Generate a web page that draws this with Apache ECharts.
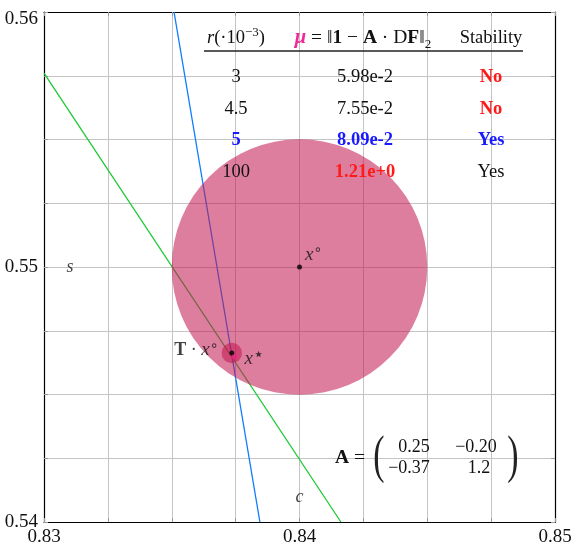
<!DOCTYPE html>
<html><head><meta charset="utf-8">
<script src="https://cdn.jsdelivr.net/npm/echarts@6/dist/echarts.min.js"></script>
<style>html,body{margin:0;padding:0;background:#fff}#c{width:572px;height:542px}</style>
</head><body><div id="c"></div>
<script>
// ---- data ----
const xRange = [0.83, 0.85];
const yRange = [0.54, 0.56];
const gridStep = 0.0025;
const blueLine = [[0.83509, 0.56], [0.83845, 0.54]];
const greenLine = [[0.83, 0.5576], [0.84162, 0.54]];
const bigCircle = [0.84, 0.55, 0.005];      // cx, cy, r
const smallCircle = [0.83735, 0.54663, 0.0004];
const xCenter = [0.84, 0.55];
const txPoint = [0.83735, 0.54663];
const xStarPoint = [0.83744, 0.54647];
const sLabelPos = [0.83102, 0.55];
const cLabelPos = [0.84, 0.54098];
const tableR = ['3', '4.5', '5', '100'];
const tableMu = ['5.98e-2', '7.55e-2', '8.09e-2', '1.21e+0'];
const tableStab = ['No', 'No', 'Yes', 'Yes'];
const matrixA = [['0.25', '\u22120.20'], ['\u22120.37', '1.2']];

const FONT = 'Liberation Serif';
const RED = '#ff1a1a', BLUE = '#1a1aff', MAG = '#ee2a96';
const fillC = 'rgba(194,20,78,0.55)';
const FS = 18.5;

const chart = echarts.init(document.getElementById('c'), null, {renderer: 'canvas'});

function lbl(v) {
  return Math.abs(v * 100 - Math.round(v * 100)) < 1e-6 ? v.toFixed(2) : '';
}
function lblY(v) {
  const s = lbl(v);
  if (!s) return '';
  return Math.abs(v - yRange[1]) < 1e-9 ? '{top|' + s + '}' : s;
}
const axisCommon = {
  type: 'value', interval: gridStep,
  axisLine: {show: true, onZero: false, lineStyle: {color: '#000', width: 1.2}},
  axisTick: {show: true, inside: true, length: 4, lineStyle: {color: '#999'}},
  splitLine: {show: true, lineStyle: {color: '#c4c4c4', width: 1}},
};

function T(x, y, text, style, extra) {
  return Object.assign({
    type: 'text', x: x, y: y, z: 100,
    style: Object.assign({
      text: text, fontFamily: FONT, fontSize: FS, fill: '#111',
      align: 'center', verticalAlign: 'middle'
    }, style || {})
  }, extra || {});
}

const rowsY = [77, 109, 140, 172];
const colX = [236, 365, 491];
const graphics = [];
// header
graphics.push(T(colX[0], 38, '{i|r}{n|(·10}{sup|\u22123}{n|)}', {rich: {
  i: {fontFamily: FONT, fontStyle: 'italic', fontSize: FS, fill: '#111', lineHeight: 24},
  n: {fontFamily: FONT, fontSize: FS, fill: '#111', lineHeight: 24},
  sup: {fontFamily: FONT, fontSize: 13, fill: '#111', verticalAlign: 'top', lineHeight: 24}
}}));
graphics.push(T(363, 38, '{mu|μ}{n| = ‖}{b|1}{n| − }{b|A}{n| · D}{b|F}{n|‖}{sub|2}', {rich: {
  mu: {fontFamily: FONT, fontStyle: 'italic', fontWeight: 'bold', fontSize: FS + 2, fill: MAG, lineHeight: 26},
  n: {fontFamily: FONT, fontSize: FS + 1, fill: '#111', lineHeight: 26},
  b: {fontFamily: FONT, fontWeight: 'bold', fontSize: FS + 1, fill: '#111', lineHeight: 26},
  sub: {fontFamily: FONT, fontSize: 13, fill: '#111', verticalAlign: 'bottom', lineHeight: 26}
}}));
graphics.push(T(colX[2], 38, 'Stability'));
graphics.push({type: 'line', z: 100, shape: {x1: 204, y1: 51, x2: 523, y2: 51}, style: {stroke: '#222', lineWidth: 1.4}});
const rowStyles = [
  [{}, {}, {fill: RED, fontWeight: 'bold'}],
  [{}, {}, {fill: RED, fontWeight: 'bold'}],
  [{fill: BLUE, fontWeight: 'bold'}, {fill: BLUE, fontWeight: 'bold'}, {fill: BLUE, fontWeight: 'bold'}],
  [{}, {fill: RED, fontWeight: 'bold'}, {}]
];
for (let i = 0; i < tableR.length; i++) {
  graphics.push(T(colX[0], rowsY[i], tableR[i], rowStyles[i][0]));
  graphics.push(T(colX[1], rowsY[i], tableMu[i], rowStyles[i][1]));
  graphics.push(T(colX[2], rowsY[i], tableStab[i], rowStyles[i][2]));
}
// matrix
graphics.push(T(350, 458, '{b|A}{n| =}', {rich: {
  b: {fontFamily: FONT, fontWeight: 'bold', fontSize: FS + 1, fill: '#111'},
  n: {fontFamily: FONT, fontSize: FS + 1, fill: '#111'}
}}));
graphics.push(T(379, 458, '(', {fontSize: 52, fill: '#222'}, {scaleX: 0.65, scaleY: 1.0}));
graphics.push(T(513, 458, ')', {fontSize: 52, fill: '#222'}, {scaleX: 0.65, scaleY: 1.0}));
graphics.push(T(414, 447, matrixA[0][0], {fontSize: 18}));
graphics.push(T(476, 447, matrixA[0][1], {fontSize: 18}));
graphics.push(T(409, 468, matrixA[1][0], {fontSize: 18}));
graphics.push(T(479, 468, matrixA[1][1], {fontSize: 18}));

const richLbl = {
  i: {fontFamily: FONT, fontStyle: 'italic', fontSize: 19, color: '#111'},
  n: {fontFamily: FONT, fontSize: 18, color: '#111'},
  b: {fontFamily: FONT, fontWeight: 'bold', fontSize: 18, color: '#111'},
  s: {fontFamily: 'DejaVu Sans', fontSize: 14, color: '#111', verticalAlign: 'top', padding: [0, 0, 8, 0]},
  st: {fontFamily: 'DejaVu Sans', fontSize: 18, color: '#111', verticalAlign: 'top', padding: [0, 0, 6, 0]}
};

const option = {
  animation: false,
  backgroundColor: '#fff',
  grid: {left: 44, right: 17, top: 12, bottom: 20, show: false, outerBoundsMode: 'none', containLabel: false},
  xAxis: [
    Object.assign({}, axisCommon, {min: xRange[0], max: xRange[1], position: 'bottom',
      axisLabel: {formatter: lbl, fontFamily: FONT, fontSize: 19, color: '#111', margin: 6, showMinLabel: true, showMaxLabel: true}}),
    Object.assign({}, axisCommon, {min: xRange[0], max: xRange[1], position: 'top',
      axisLabel: {show: false}, splitLine: {show: false}})
  ],
  yAxis: [
    Object.assign({}, axisCommon, {min: yRange[0], max: yRange[1], position: 'left',
      axisLabel: {formatter: lblY, fontFamily: FONT, fontSize: 19, color: '#111', margin: 6, showMinLabel: true, showMaxLabel: true,
        rich: {top: {fontFamily: FONT, fontSize: 19, color: '#111', padding: [14, 0, 0, 0]}}}}),
    Object.assign({}, axisCommon, {min: yRange[0], max: yRange[1], position: 'right',
      axisLabel: {show: false}, splitLine: {show: false}})
  ],
  series: [
    {type: 'line', data: blueLine, symbol: 'none', z: 2, lineStyle: {color: '#0a7cff', width: 1.3}},
    {type: 'line', data: greenLine, symbol: 'none', z: 2, lineStyle: {color: '#1ec834', width: 1.3}},
    {type: 'custom', z: 3, data: [bigCircle, smallCircle],
      renderItem: function (params, api) {
        const c = api.coord([api.value(0), api.value(1)]);
        const r = api.size([api.value(2), 0])[0];
        return {type: 'circle', shape: {cx: c[0], cy: c[1], r: r}, style: {fill: fillC}};
      }},
    {type: 'scatter', z: 5, symbolSize: 5, itemStyle: {color: '#000'},
      data: [
        {value: xCenter, label: {show: true, position: [8, -21], formatter: '{i|x}{s|∘}'}},
        {value: txPoint, label: {show: true, position: [-55, -11], formatter: '{b|T}{n| · }{i|x}{s|∘}'}}
      ],
      label: {rich: richLbl}},
    {type: 'scatter', z: 6, symbolSize: 5, itemStyle: {color: '#e8208a'},
      data: [{value: xStarPoint, label: {show: true, position: [13, -8], formatter: '{i|x}{st|⋆}'}}],
      label: {rich: richLbl}},
    {type: 'scatter', z: 6, symbolSize: 0,
      data: [
        {value: sLabelPos, label: {formatter: 's'}},
        {value: cLabelPos, label: {formatter: 'c'}}
      ],
      label: {show: true, position: 'inside', fontFamily: FONT, fontStyle: 'italic', fontSize: 18, color: '#111'}}
  ],
  graphic: graphics
};
chart.setOption(option);
</script></body></html>
